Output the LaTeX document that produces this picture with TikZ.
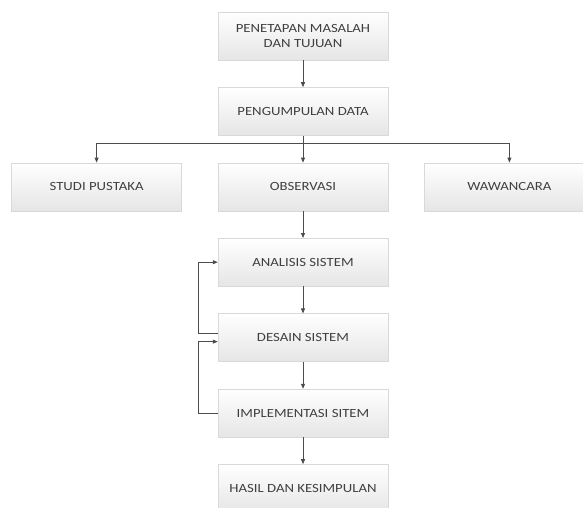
\documentclass[tikz,border=0pt]{standalone}
\usepackage{fontspec}
\setmainfont{Carlito}[FakeStretch=1.18]
\usepackage{tikz}
\usetikzlibrary{arrows.meta,positioning,calc}

\begin{document}
\begin{tikzpicture}[
  x=1pt, y=1pt,
  node distance=27pt and 36pt,
  box/.style={draw=gray!30, top color=white, bottom color=gray!20, minimum width=170pt, minimum height=48pt, align=center, inner sep=2pt, text=black!75, font=\fontsize{12.5}{14.5}\selectfont},
  arr/.style={-{Triangle[length=5pt,width=4pt]}, line width=0.8pt, gray!60!black}
]
\useasboundingbox (0,0) rectangle (583,-507);
\node[box] (tujuan) at (303,-36) {PENETAPAN MASALAH\\DAN TUJUAN};
\node[box, below=of tujuan] (data) {PENGUMPULAN DATA};
\node[box, below=of data] (obs) {OBSERVASI};
\node[box, left=of obs] (studi) {STUDI PUSTAKA};
\node[box, right=of obs] (wawan) {WAWANCARA};
\node[box, below=of obs] (analisis) {ANALISIS SISTEM};
\node[box, below=of analisis] (desain) {DESAIN SISTEM};
\node[box, below=of desain] (impl) {IMPLEMENTASI SITEM};
\node[box, below=of impl] (hasil) {HASIL DAN KESIMPULAN};

\draw[arr] (tujuan) -- (data);
\draw[arr] (data) -- (obs);
\draw[arr] (data.south) ++(0,-8) -| (studi.north);
\draw[arr] (data.south) ++(0,-8) -| (wawan.north);
\draw[arr] (obs) -- (analisis);
\draw[arr] (analisis) -- (desain);
\draw[arr] (desain) -- (impl);
\draw[arr] (impl) -- (hasil);
% umpan balik
\draw[arr] ([yshift=4pt]desain.west) -- ++(-19,0) |- (analisis.west);
\draw[arr] (impl.west) -- ++(-19,0) |- ([yshift=-4pt]desain.west);
\end{tikzpicture}
\end{document}
